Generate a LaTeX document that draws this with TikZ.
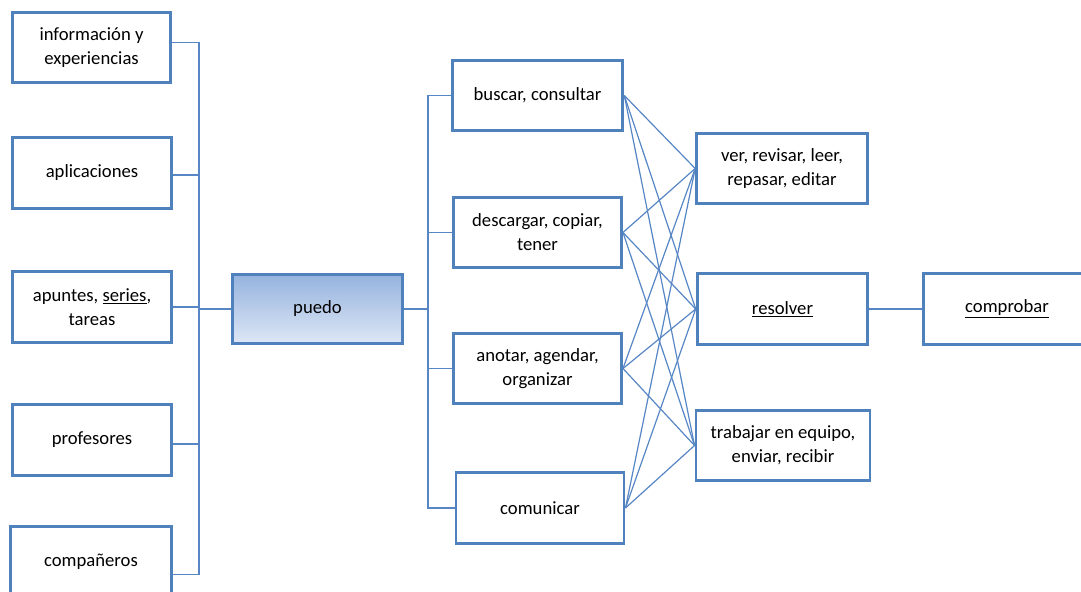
\documentclass[tikz,border=0pt]{standalone}
\usepackage{fontspec}
\setmainfont{Carlito}
\usepackage{tikz}
\usetikzlibrary{positioning}

\definecolor{boxblue}{RGB}{79,129,189}
\definecolor{linkblue}{RGB}{86,134,196}
\definecolor{topfill}{RGB}{149,179,223}
\definecolor{botfill}{RGB}{222,231,245}

\begin{document}
\begin{tikzpicture}[x=0.75pt,y=-0.75pt]
			\tikzstyle{Box}		= [rectangle, draw=boxblue, line width=2.2pt, fill=white, align=center, font=\fontsize{14}{18}\selectfont, minimum height=53pt, inner sep=2pt]
			\tikzstyle{LeftBox}	= [Box, minimum width=119pt]
			\tikzstyle{MidBox}	= [Box, minimum width=126pt, minimum height=52pt]
			\tikzstyle{RightBox}	= [Box, minimum width=128pt]
			\tikzstyle{Main}	= [Box, top color=topfill, bottom color=botfill, minimum width=127pt, minimum height=52pt]
			\tikzstyle{Link}	= [linkblue, line width=0.9pt]

			\useasboundingbox (0,0) rectangle (1081,592);

			% sources
			\node (inf) at (91.5,47.5) [LeftBox] {información y\\experiencias};
			\node (apl) at (92,173) [LeftBox] {aplicaciones};
			\node (apu) at (92,307) [LeftBox] {apuntes, \underline{series},\\tareas};
			\node (pro) at (92,440) [LeftBox] {profesores};
			\node (com) at (91,562) [LeftBox, minimum width=121pt] {compañeros};

			\node (puedo) at (317.5,309) [Main] {puedo};

			% actions
			\node (busc) at (537.5,95.5) [MidBox, minimum width=128pt] {buscar, consultar};
			\node (desc) at (537.5,232.5) [MidBox] {descargar, copiar,\\tener};
			\node (anot) at (537.5,368.5) [MidBox] {anotar, agendar,\\organizar};
			\node (comu) at (540,508) [MidBox, minimum height=53pt] {comunicar};

			\node (ver) at (782,168.5) [RightBox] {ver, revisar, leer,\\repasar, editar};
			\node (reso) at (782.5,309) [RightBox] {\underline{resolver}};
			\node (trab) at (783,445.5) [RightBox, minimum width=130.5pt, minimum height=52pt] {trabajar en equipo,\\enviar, recibir};
			\node (comp) at (1007,309) [RightBox, minimum width=125pt] {\underline{comprobar}};

			\coordinate (lbar) at (199,309);
			\coordinate (rbar) at (428,309);

			\draw [-] ([yshift=4pt]inf.east) -| (lbar) [Link];
			\draw [-] ([yshift=-1.5pt]apl.east) -| (lbar) [Link];
			\draw [-] (apu.east) -| (lbar) [Link];
			\draw [-] ([yshift=-3pt]pro.east) -| (lbar) [Link];
			\draw [-] ([yshift=-9.5pt]com.east) -| (lbar) [Link];
			\draw [-] (lbar) to (puedo.west) [Link];

			\draw [-] (puedo.east) to (rbar) [Link];
			\foreach \t in {busc,desc,anot,comu}
				\draw [-] (rbar) |- (\t.west) [Link];

			\foreach \a in {busc,desc,anot,comu}
				\foreach \b in {ver,reso,trab}
					\draw [-] (\a.east) to (\b.west) [Link];

			\draw [-] (reso) to (comp) [Link];

		\end{tikzpicture}
\end{document}
